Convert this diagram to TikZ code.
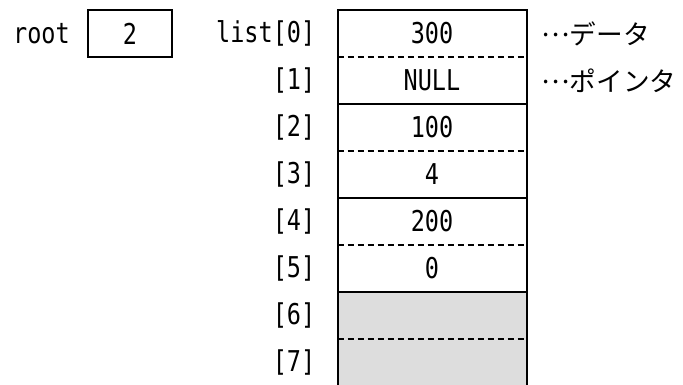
\documentclass[tikz,border=0pt]{standalone}
\usepackage{fontspec}
\setmonofont[FakeStretch=0.82]{DejaVu Sans Mono}
\newfontfamily\jpfont{Noto Sans CJK JP}
\usepackage{tikz}
\usetikzlibrary{positioning}
\definecolor{FreeGray}{HTML}{DDDDDD}
\newcommand{\middots}{\raisebox{0.3em}{…}}

\begin{document}
\begin{tikzpicture}[
    x=0.75pt, y=-0.75pt,
    font=\ttfamily\fontsize{21.5}{24}\selectfont,
    cellbox/.style={minimum width=141.75pt,minimum height=35.25pt,inner sep=0pt,outer sep=0pt},
    freebox/.style={cellbox,fill=FreeGray},
    rootbox/.style={draw,line width=1.5pt,minimum width=63pt,minimum height=35.25pt,inner sep=0pt},
    idx/.style={inner sep=0pt},
    note/.style={inner sep=0pt,font=\jpfont\fontsize{20}{24}\selectfont},
    solidsep/.style={line width=1.5pt},
    dashsep/.style={line width=1.2pt,dash pattern=on 4.5pt off 3pt}
  ]
  \useasboundingbox (0,0) rectangle (683,385);

  % root variable
  \node[rootbox] (root) at (130,33.5) {2};
  \node[idx,left=12.75pt of root] (rootlbl) {root};

  % array cells
  \foreach \i/\val in {0/300,1/NULL,2/100,3/4,4/200,5/0}
    \node[cellbox] (c\i) at (432,33.5+47*\i) {\val};
  \foreach \i in {6,7}
    \node[freebox] (c\i) at (432,33.5+47*\i) {};

  % separators
  \foreach \i in {0,2,4,6}
    \draw[dashsep] (c\i.south west) -- (c\i.south east);
  \foreach \i in {1,3,5}
    \draw[solidsep] (c\i.south west) -- (c\i.south east);
  \draw[solidsep] (c7.south west) |- (c0.north east) -- (c7.south east);

  % indices
  \node[idx,left=16.5pt of c0] (i0) {list[0]};
  \foreach \i in {1,...,7}
    \node[idx,left=16.5pt of c\i] (i\i) {[\i]};

  % notes
  \node[note,right=11pt of c0] (n0) {\middots データ};
  \node[note,right=11pt of c1] (n1) {\middots ポインタ};
\end{tikzpicture}
\end{document}
